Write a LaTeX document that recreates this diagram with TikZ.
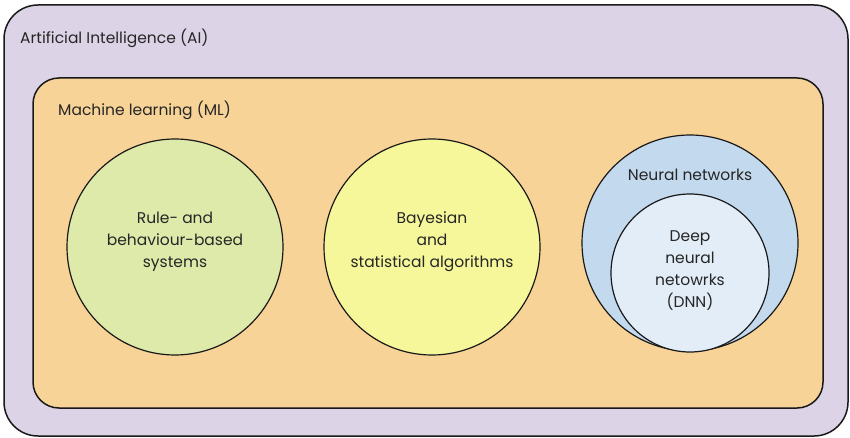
\documentclass[tikz,border=0pt]{standalone}
\usepackage{fontspec}
\setmainfont{Poppins}
\begin{document}
\begin{tikzpicture}[x=1pt,y=-1pt,
  lbl/.style={font=\fontsize{15.5}{22}\selectfont,text=black!85,inner sep=0pt,align=center},
  circ/.style={draw=black!90,line width=1.2pt,circle}]
\useasboundingbox (0,0) rectangle (850,438);
\draw[draw=black!90,line width=1.5pt,fill={rgb,255:red,220;green,211;blue,230},rounded corners=34pt] (4,5) rectangle (848,436);
\draw[draw=black!90,line width=1.5pt,fill={rgb,255:red,248;green,211;blue,151},rounded corners=26pt] (33,78) rectangle (823,408);
\node[lbl,anchor=base west] (ai) at (20,44) {Artificial Intelligence (AI)};
\node[lbl,anchor=base west] (ml) at (58,116) {Machine learning (ML)};
\draw[circ,fill={rgb,255:red,221;green,234;blue,170}] (175,247) circle (108);
\draw[circ,fill={rgb,255:red,246;green,247;blue,154}] (432,247) circle (108);
\draw[circ,fill={rgb,255:red,195;green,217;blue,238}] (690,243) circle (108);
\draw[circ,fill={rgb,255:red,226;green,237;blue,248}] (690,273) circle (79);
\node[lbl] (rule) at (175,242) {Rule- and\\behaviour-based\\systems};
\node[lbl] (bay) at (432,242) {Bayesian\\and\\statistical algorithms};
\node[lbl,anchor=base] (nn) at (690,181) {Neural networks};
\node[lbl] (dnn) at (690,271) {Deep\\neural\\netowrks\\(DNN)};
\end{tikzpicture}
\end{document}
